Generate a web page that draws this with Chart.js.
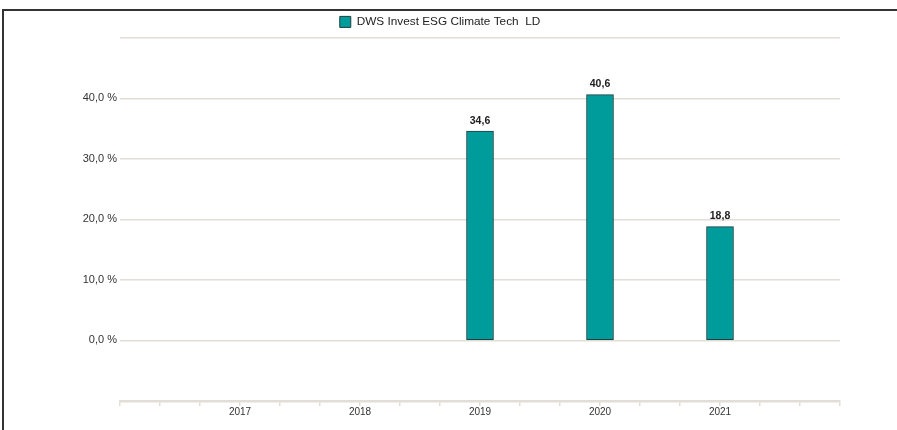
<!DOCTYPE html>
<html>
<head>
<meta charset="utf-8">
<script src="https://cdn.jsdelivr.net/npm/chart.js@4/dist/chart.umd.min.js"></script>
<style>
  body { margin: 0; background: #fff; }
  #wrap { position: relative; width: 897px; height: 430px; }
  #frame { position: absolute; left: 2px; top: 9px; right: 0; bottom: 0;
           border-left: 2px solid #333; border-top: 2px solid #333; pointer-events: none; }
</style>
</head>
<body>
<div id="wrap">
  <canvas id="chart_perf" width="897" height="430"></canvas>
  <div id="frame"></div>
</div>
<script>
// values
var years = ["2017", "2018", "2019", "2020", "2021"]
var perfValues = [null, null, 34.6, 40.6, 18.8]
var seriesName = "DWS Invest ESG Climate Tech  LD"
var yTicks = [0, 10, 20, 30, 40]

// the axis has a small tick every third of a year slot, so pad the labels
var labels = []
var data = []
for (var i = 0; i <= 18; i++) {
    var k = (i - 3) / 3
    if (i % 3 === 0 && k >= 0 && k < years.length) {
        labels.push(years[k])
        data.push(perfValues[k])
    } else {
        labels.push("")
        data.push(null)
    }
}

var gridColor = "#e2ded6"
var font = "'Liberation Sans', Arial, sans-serif"

//draws the numbers on top of the bars
var valueLabels = {
    id: "valueLabels",
    afterDatasetsDraw: function(chart) {
        var c = chart.ctx
        var meta = chart.getDatasetMeta(0)
        c.save()
        c.font = "bold 10.5px " + font
        c.fillStyle = "#222"
        c.textAlign = "center"
        c.textBaseline = "bottom"
        meta.data.forEach(function(bar, idx) {
            var v = data[idx]
            if (v === null) return
            c.fillText(v.toFixed(1).replace(".", ","), bar.x, bar.y - 5)
        })
        c.restore()
    }
}

var ctx = document.getElementById("chart_perf").getContext("2d")
var myChart = new Chart(ctx, {
    type: "bar",
    data: {
        labels: labels,
        datasets: [{
            label: seriesName,
            data: data,
            backgroundColor: "#009b9b",
            borderColor: "#1f3d3d",
            borderWidth: 1,
            borderSkipped: false,
            barThickness: 27
        }]
    },
    options: {
        responsive: false,
        animation: false,
        layout: { padding: { left: 40, right: 57, top: 12, bottom: 12 } },
        plugins: {
            legend: {
                labels: {
                    boxWidth: 11,
                    boxHeight: 11,
                    padding: 4,
                    color: "#222",
                    font: { family: font, size: 11.8 }
                }
            },
            tooltip: { enabled: false }
        },
        scales: {
            x: {
                offset: false,
                grid: { offset: false, drawOnChartArea: false, color: gridColor, tickLength: 5, lineWidth: 1.5 },
                border: { color: gridColor, width: 2.5 },
                ticks: {
                    autoSkip: false, maxRotation: 0, padding: 0,
                    color: "#333", font: { family: font, size: 10 }
                }
            },
            y: {
                min: -10,
                max: 50,
                afterFit: function(scale) { scale.width = 80 },
                grid: { color: gridColor, lineWidth: 1.5, drawTicks: false },
                border: { display: false },
                ticks: {
                    stepSize: 10,
                    padding: 3,
                    color: "#333",
                    font: { family: font, size: 11 },
                    callback: function(v) {
                        return yTicks.indexOf(v) >= 0 ? v.toFixed(1).replace(".", ",") + " %" : ""
                    }
                }
            }
        }
    },
    plugins: [valueLabels]
})
</script>
</body>
</html>
